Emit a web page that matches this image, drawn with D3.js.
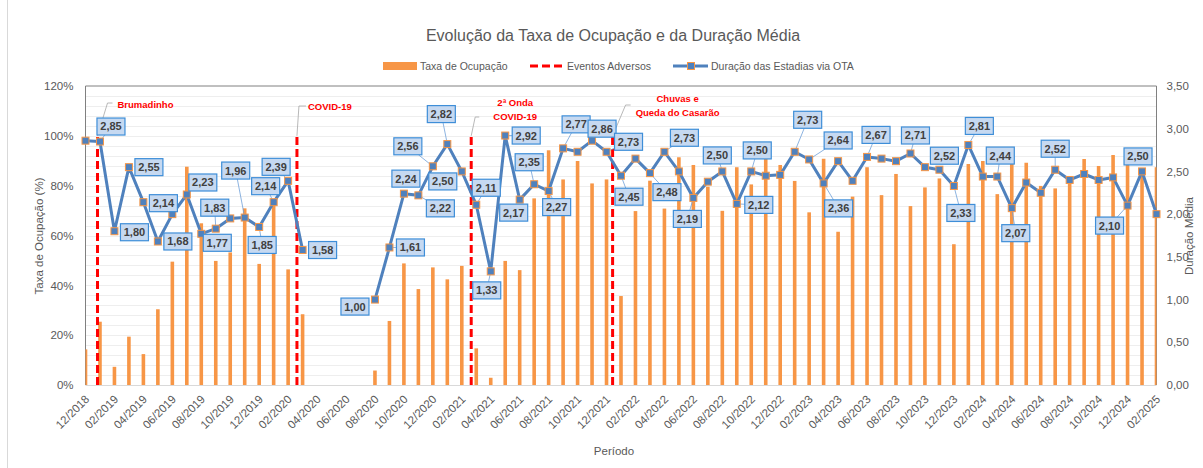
<!DOCTYPE html>
<html lang="pt">
<head>
<meta charset="UTF-8">
<title>Evolução da Taxa de Ocupação e da Duração Média</title>
<script src="https://cdn.jsdelivr.net/npm/d3@7"></script>
<style>
  body{margin:0;background:#fff;}
  svg{display:block;font-family:"Liberation Sans",Arial,sans-serif;}
</style>
</head>
<body>
<svg id="chart" width="1203" height="468"></svg>
<script>
// ---- data ----
const periods = [
  "12/2018",
  "01/2019","02/2019","03/2019","04/2019","05/2019","06/2019","07/2019","08/2019","09/2019","10/2019","11/2019","12/2019",
  "01/2020","02/2020","03/2020","04/2020","05/2020","06/2020","07/2020","08/2020","09/2020","10/2020","11/2020","12/2020",
  "01/2021","02/2021","03/2021","04/2021","05/2021","06/2021","07/2021","08/2021","09/2021","10/2021","11/2021","12/2021",
  "01/2022","02/2022","03/2022","04/2022","05/2022","06/2022","07/2022","08/2022","09/2022","10/2022","11/2022","12/2022",
  "01/2023","02/2023","03/2023","04/2023","05/2023","06/2023","07/2023","08/2023","09/2023","10/2023","11/2023","12/2023",
  "01/2024","02/2024","03/2024","04/2024","05/2024","06/2024","07/2024","08/2024","09/2024","10/2024","11/2024","12/2024",
  "01/2025","02/2025"
];

// Taxa de Ocupação (%)
const occupancy = [
  14.3,
  25.4, 7.3, 19.4, 12.4, 30.4, 49.5, 87.6, 64.9, 49.8, 53.2, 70.9, 48.6,
  74.0, 46.4, 28.4, null, null, null, null, 5.8, 25.7, 48.8, 38.5, 47.2,
  42.4, 47.8, 14.7, 2.9, 49.8, 46.1, 74.9, 94.2, 82.5, 89.9, 80.9, 82.5,
  35.7, 69.8, 82.0, 70.8, 91.4, 88.3, 79.6, 69.9, 87.4, 80.5, 90.7, 88.3,
  81.9, 69.3, 90.8, 61.5, 75.6, 87.4, 76.2, 84.7, 71.8, 79.3, 82.9, 56.5,
  88.7, 89.9, 76.6, 91.9, 89.2, 79.9, 78.9, 83.6, 90.7, 87.9, 92.3, 92.3,
  86.3, 87.4
];

// Duração das Estadias via OTA
const duration = [
  2.86,
  2.85, 1.80, 2.55, 2.14, 1.68, 2.00, 2.23, 1.77, 1.83, 1.95, 1.96, 1.85,
  2.14, 2.39, 1.58, null, null, null, null, 1.00, 1.61, 2.24, 2.22, 2.56,
  2.82, 2.50, 2.11, 1.33, 2.92, 2.17, 2.35, 2.27, 2.77, 2.73, 2.86, 2.73,
  2.45, 2.65, 2.48, 2.73, 2.50, 2.19, 2.38, 2.50, 2.12, 2.50, 2.45, 2.46,
  2.73, 2.64, 2.36, 2.62, 2.39, 2.67, 2.65, 2.62, 2.71, 2.55, 2.52, 2.33,
  2.81, 2.44, 2.44, 2.07, 2.37, 2.25, 2.52, 2.40, 2.47, 2.40, 2.43, 2.10,
  2.50, 2.00
];

// Eventos adversos (posição em meses a partir de 12/2018)
const eventPos = [0.83, 14.61, 26.65, 36.42];
const eventNames = [["Brumadinho"], ["COVID-19"], ["2ª Onda", "COVID-19"], ["Chuvas e", "Queda do Casarão"]];

const xTickLabels = periods.filter((d, i) => i % 2 === 0);
const occTicks = [0, 20, 40, 60, 80, 100, 120];
const durTicks = [0, 0.5, 1, 1.5, 2, 2.5, 3, 3.5];

// ---- layout ----
// data label placement: [index, dx, dy] of box centre relative to point
const labelLayout = [
  [1, 11, -15], [2, 20, 1], [3, 20, 0], [4, 20, 1], [5, 20, 0], [7, 16, -12], [8, 16, 9],
  [9, -1, -21], [11, -9, -47], [12, 3, 18], [13, -8, -16], [14, -12, -14], [15, 20, 0],
  [20, -20, 7], [21, 21, 0], [22, 2, -15], [23, 22, 13], [24, -25, -20], [25, -6, -30],
  [26, -19, 10], [27, 10, -17], [28, -4, 19], [29, 21, 0], [30, -6, 13], [31, -5, -22],
  [32, 8, 16], [33, 13, -24], [35, 10, -12], [36, 22, -10], [37, 8, 21], [39, 17, 19],
  [40, 20, -14], [42, -6, 21], [44, -5, -16], [45, 22, 1], [46, 6, -21], [49, 13, -32],
  [50, 29, -19], [51, 15, 25], [54, 9, -22], [57, 5, -18], [59, 5, -14], [60, 7, 27],
  [61, 11, -19], [63, 3, -21], [64, 4, 25], [67, 0, -21], [72, -18, 20], [73, -4, -15]
];
// event label placement: text x offset from line, anchor, baselines, leader stub
const eventLayout = [
  {dx: 20, anchor: "start", y: [108], stub: [[15, 103], [10, 103]]},
  {dx: 11, anchor: "start", y: [110], stub: [[9, 106], [2, 106]]},
  {dx: 44, anchor: "middle", y: [106, 120], stub: [[8, 117], [4, 117]]},
  {dx: 65, anchor: "middle", y: [102, 116], stub: [[18, 105], [13, 105]]}
];

const W = 1203, H = 468;
const plot = {left: 85.5, right: 1156.5, top: 86, bottom: 385};

const svg = d3.select("#chart");
const loc = d3.formatLocale({decimal: ",", thousands: ".", grouping: [3], currency: ["R$", ""]});
const fmt = loc.format(".2f");

const orange = "#F79646", blue = "#4F81BD", gray = "#595959";

// scales
const x = d3.scaleLinear().domain([0, periods.length - 1]).range([plot.left, plot.right]);
const xPoint = d3.scalePoint().domain(periods).range([plot.left, plot.right]);
const yOcc = d3.scaleLinear().domain([0, 120]).range([plot.bottom, plot.top]);
const yDur = d3.scaleLinear().domain([0, 3.5]).range([plot.bottom, plot.top]);

// chart frame (left edge visible)
svg.append("line").attr("x1", 7.5).attr("x2", 7.5).attr("y1", 0).attr("y2", H)
  .attr("stroke", "#d9d9d9");

// gridlines every 4%
svg.append("g").selectAll("line")
  .data(d3.range(4, 120, 4))
  .join("line")
  .attr("x1", plot.left).attr("x2", plot.right)
  .attr("y1", d => Math.round(yOcc(d)) + 0.5).attr("y2", d => Math.round(yOcc(d)) + 0.5)
  .attr("stroke", "#eeeeee");

// plot border
svg.append("path")
  .attr("d", `M${plot.left},${plot.bottom}V${plot.top}H${plot.right}V${plot.bottom}`)
  .attr("fill", "none").attr("stroke", "#808080");
svg.append("line").attr("x1", plot.left).attr("x2", plot.right)
  .attr("y1", plot.bottom + 0.5).attr("y2", plot.bottom + 0.5).attr("stroke", "#d9d9d9");

// title
svg.append("text").attr("x", 613).attr("y", 41).attr("text-anchor", "middle")
  .attr("font-size", 16).attr("fill", gray)
  .text("Evolução da Taxa de Ocupação e da Duração Média");

// legend
const lg = svg.append("g").attr("font-size", 10.5).attr("fill", gray);
lg.append("rect").attr("x", 383).attr("y", 62).attr("width", 34).attr("height", 8).attr("fill", orange);
lg.append("text").attr("x", 420).attr("y", 69.5).text("Taxa de Ocupação");
lg.append("line").attr("x1", 530).attr("x2", 562).attr("y1", 66).attr("y2", 66)
  .attr("stroke", "#FF0000").attr("stroke-width", 3).attr("stroke-dasharray", "8,4");
lg.append("text").attr("x", 567).attr("y", 69.5).text("Eventos Adversos");
lg.append("line").attr("x1", 673).attr("x2", 708).attr("y1", 66).attr("y2", 66)
  .attr("stroke", blue).attr("stroke-width", 3);
lg.append("rect").attr("x", 687.5).attr("y", 62.5).attr("width", 7).attr("height", 7)
  .attr("fill", blue).attr("stroke", orange);
lg.append("text").attr("x", 711).attr("y", 69.5).text("Duração das Estadias via OTA");

// left axis
const axL = svg.append("g").attr("transform", `translate(${plot.left},0)`)
  .call(d3.axisLeft(yOcc).tickValues(occTicks).tickFormat(d => d + "%").tickSize(0).tickPadding(12));
axL.select(".domain").remove();
axL.selectAll("text").attr("fill", gray).attr("font-size", 11.5);

// right axis
const axR = svg.append("g").attr("transform", `translate(${plot.right},0)`)
  .call(d3.axisRight(yDur).tickValues(durTicks).tickFormat(fmt).tickSize(0).tickPadding(10));
axR.select(".domain").remove();
axR.selectAll("text").attr("fill", gray).attr("font-size", 11.5);

// bottom axis
const axB = svg.append("g").attr("transform", `translate(0,${plot.bottom})`)
  .call(d3.axisBottom(xPoint).tickValues(xTickLabels).tickSize(0));
axB.select(".domain").remove();
axB.selectAll("text")
  .attr("fill", gray).attr("font-size", 11.5)
  .attr("text-anchor", "end").attr("y", 0).attr("dy", null)
  .attr("transform", "translate(4,15) rotate(-45)");

// axis titles
svg.append("text").attr("transform", "translate(43,236) rotate(-90)")
  .attr("text-anchor", "middle").attr("font-size", 11.5).attr("fill", gray)
  .text("Taxa de Ocupação (%)");
svg.append("text").attr("transform", "translate(1193,236) rotate(-90)")
  .attr("text-anchor", "middle").attr("font-size", 11.5).attr("fill", gray)
  .text("Duração Média");
svg.append("text").attr("x", 614).attr("y", 455).attr("text-anchor", "middle")
  .attr("font-size", 11.5).attr("fill", gray).text("Período");

// bars
svg.append("clipPath").attr("id", "plotclip").append("rect")
  .attr("x", plot.left).attr("y", plot.top).attr("width", plot.right - plot.left).attr("height", plot.bottom - plot.top);
const barW = 3.6;
svg.append("g").attr("clip-path", "url(#plotclip)").selectAll("rect")
  .data(occupancy.map((v, i) => ({i, v})).filter(d => d.v != null))
  .join("rect")
  .attr("x", d => x(d.i) - barW / 2)
  .attr("y", d => yOcc(d.v))
  .attr("width", barW)
  .attr("height", d => yOcc(0) - yOcc(d.v))
  .attr("fill", orange);

// adverse events
const ev = svg.append("g");
eventPos.forEach((p, k) => {
  const ex = x(p), top = yOcc(100);
  ev.append("line").attr("x1", ex).attr("x2", ex).attr("y1", plot.bottom).attr("y2", top)
    .attr("stroke", "#FF0000").attr("stroke-width", 3).attr("stroke-dasharray", "8,4");
  const L = eventLayout[k];
  ev.append("polyline")
    .attr("points", [[ex + L.stub[0][0], L.stub[0][1]], [ex + L.stub[1][0], L.stub[1][1]], [ex, top]].map(q => q.join(",")).join(" "))
    .attr("fill", "none").attr("stroke", "#a6a6a6").attr("stroke-width", 0.8);
  eventNames[k].forEach((s, j) => {
    ev.append("text").attr("x", ex + L.dx).attr("y", L.y[j]).attr("text-anchor", L.anchor)
      .attr("font-size", 9.5).attr("font-weight", "bold").attr("fill", "#FF0000").text(s);
  });
});

// duration line
const line = d3.line()
  .defined(d => d != null)
  .x((d, i) => x(i))
  .y(d => yDur(d));
svg.append("path").datum(duration).attr("d", line)
  .attr("fill", "none").attr("stroke", blue).attr("stroke-width", 3).attr("stroke-linejoin", "round");

// leader lines for data labels
const boxW = 28, boxH = 17;
const leaders = svg.append("g");
labelLayout.forEach(([i, dx, dy]) => {
  const px = x(i), py = yDur(duration[i]);
  const len = Math.hypot(dx, dy);
  if (len === 0) return;
  const s = Math.min(dx ? (boxW / 2) / Math.abs(dx) : Infinity, dy ? (boxH / 2) / Math.abs(dy) : Infinity);
  if ((1 - s) * len < 7) return;
  leaders.append("line")
    .attr("x1", px).attr("y1", py)
    .attr("x2", px + dx - dx * s).attr("y2", py + dy - dy * s)
    .attr("stroke", "#6fa0d8").attr("stroke-width", 0.8);
});

// markers
svg.append("g").selectAll("rect")
  .data(duration.map((v, i) => ({i, v})).filter(d => d.v != null))
  .join("rect")
  .attr("x", d => x(d.i) - 3.5).attr("y", d => yDur(d.v) - 3.5)
  .attr("width", 7).attr("height", 7)
  .attr("fill", blue).attr("stroke", orange).attr("stroke-width", 1);

// data label boxes
const lab = svg.append("g").selectAll("g")
  .data(labelLayout)
  .join("g")
  .attr("transform", ([i, dx, dy]) => `translate(${x(i) + dx},${yDur(duration[i]) + dy})`);
lab.append("rect").attr("x", -boxW / 2).attr("y", -boxH / 2).attr("width", boxW).attr("height", boxH)
  .attr("fill", "#C6D9F1").attr("stroke", "#3E8ED8").attr("stroke-width", 1.2);
lab.append("text").attr("text-anchor", "middle").attr("dy", "0.36em")
  .attr("font-size", 11).attr("font-weight", "bold").attr("fill", "#404040")
  .text(([i]) => fmt(duration[i]));
</script>
</body>
</html>
